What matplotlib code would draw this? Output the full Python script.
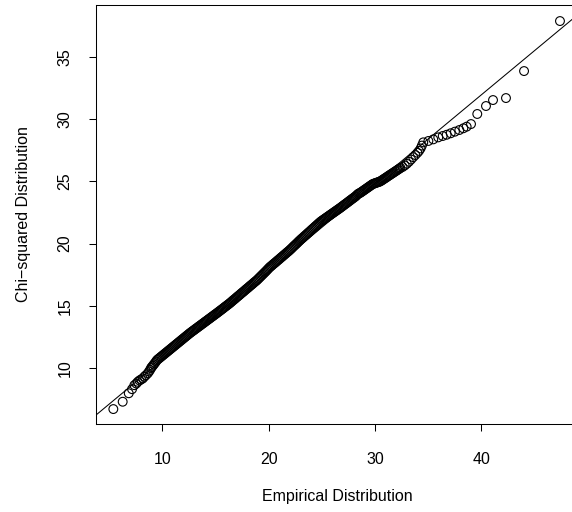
import matplotlib
matplotlib.use("Agg")
import matplotlib.pyplot as plt

plt.rcParams['font.family'] = ['Liberation Sans', 'DejaVu Sans']

# Empirical quantiles (x) vs chi-squared quantiles (y)
emp_x = [
    # lower tail
    5.39, 6.27, 6.84, 7.15, 7.37, 7.55, 7.69, 7.85, 8.00, 8.16, 8.30, 8.45, 8.63, 8.75, 8.85, 8.94,
    # dense body
    9.0, 9.1, 9.2, 9.3, 9.4, 9.5, 9.6, 9.7, 9.8, 9.9,
    10.0, 10.1, 10.2, 10.3, 10.4, 10.5, 10.6, 10.7, 10.8, 10.9,
    11.0, 11.1, 11.2, 11.3, 11.4, 11.5, 11.6, 11.7, 11.8, 11.9,
    12.0, 12.1, 12.2, 12.3, 12.4, 12.5, 12.6, 12.7, 12.8, 12.9,
    13.0, 13.1, 13.2, 13.3, 13.4, 13.5, 13.6, 13.7, 13.8, 13.9,
    14.0, 14.1, 14.2, 14.3, 14.4, 14.5, 14.6, 14.7, 14.8, 14.9,
    15.0, 15.1, 15.2, 15.3, 15.4, 15.5, 15.6, 15.7, 15.8, 15.9,
    16.0, 16.1, 16.2, 16.3, 16.4, 16.5, 16.6, 16.7, 16.8, 16.9,
    17.0, 17.1, 17.2, 17.3, 17.4, 17.5, 17.6, 17.7, 17.8, 17.9,
    18.0, 18.1, 18.2, 18.3, 18.4, 18.5, 18.6, 18.7, 18.8, 18.9,
    19.0, 19.1, 19.2, 19.3, 19.4, 19.5, 19.6, 19.7, 19.8, 19.9,
    20.0, 20.1, 20.2, 20.3, 20.4, 20.5, 20.6, 20.7, 20.8, 20.9,
    21.0, 21.1, 21.2, 21.3, 21.4, 21.5, 21.6, 21.7, 21.8, 21.9,
    22.0, 22.1, 22.2, 22.3, 22.4, 22.5, 22.6, 22.7, 22.8, 22.9,
    23.0, 23.1, 23.2, 23.3, 23.4, 23.5, 23.6, 23.7, 23.8, 23.9,
    24.0, 24.1, 24.2, 24.3, 24.4, 24.5, 24.6, 24.7, 24.8, 24.9,
    25.0, 25.1, 25.2, 25.3, 25.4, 25.5, 25.6, 25.7, 25.8, 25.9,
    26.0, 26.1, 26.2, 26.3, 26.4, 26.5, 26.6, 26.7, 26.8, 26.9,
    27.0, 27.1, 27.2, 27.3, 27.4, 27.5, 27.6, 27.7, 27.8, 27.9,
    28.0, 28.1, 28.2, 28.3, 28.4, 28.5, 28.6, 28.7, 28.8, 28.9,
    29.0, 29.1, 29.2, 29.3, 29.4, 29.5, 29.6, 29.7, 29.8, 29.9,
    30.0, 30.1, 30.2, 30.3, 30.4, 30.5, 30.6, 30.7, 30.8, 30.9,
    31.0, 31.1, 31.2, 31.3, 31.4, 31.5, 31.6, 31.7, 31.8, 31.9,
    32.0, 32.1, 32.2, 32.3, 32.4,
    # thinning out
    32.6, 32.8, 33.0, 33.2, 33.4, 33.6, 33.8, 34.0, 34.15, 34.3, 34.42, 34.55,
    # upper tail
    35.03, 35.49, 35.96, 36.38, 36.75, 37.13, 37.53, 37.94, 38.32, 38.63, 39.04,
    39.63, 40.45, 41.11, 42.33, 44.03, 47.41,
]
chi_y = [
    6.70, 7.29, 7.97, 8.30, 8.62, 8.75, 8.89, 9.00, 9.08, 9.16, 9.30, 9.42, 9.57, 9.72, 9.85, 10.00,
    10.07, 10.18, 10.29, 10.40, 10.52, 10.64, 10.71, 10.78, 10.85, 10.92,
    10.99, 11.06, 11.13, 11.20, 11.27, 11.34, 11.41, 11.48, 11.55, 11.62,
    11.69, 11.76, 11.83, 11.90, 11.97, 12.04, 12.11, 12.18, 12.25, 12.32,
    12.39, 12.46, 12.53, 12.60, 12.67, 12.74, 12.81, 12.87, 12.94, 13.00,
    13.06, 13.13, 13.19, 13.25, 13.32, 13.38, 13.44, 13.51, 13.57, 13.63,
    13.70, 13.76, 13.82, 13.89, 13.95, 14.01, 14.08, 14.14, 14.20, 14.27,
    14.33, 14.39, 14.46, 14.52, 14.59, 14.65, 14.72, 14.78, 14.85, 14.92,
    14.98, 15.05, 15.11, 15.18, 15.25, 15.32, 15.40, 15.47, 15.54, 15.61,
    15.69, 15.76, 15.83, 15.90, 15.98, 16.05, 16.12, 16.19, 16.27, 16.34,
    16.41, 16.48, 16.56, 16.63, 16.70, 16.77, 16.85, 16.92, 16.99, 17.06,
    17.15, 17.23, 17.32, 17.40, 17.49, 17.57, 17.66, 17.74, 17.83, 17.92,
    18.01, 18.10, 18.17, 18.24, 18.32, 18.39, 18.46, 18.53, 18.61, 18.68,
    18.75, 18.83, 18.90, 18.97, 19.05, 19.12, 19.19, 19.27, 19.34, 19.41,
    19.49, 19.57, 19.65, 19.74, 19.82, 19.90, 19.98, 20.06, 20.15, 20.23,
    20.31, 20.39, 20.46, 20.54, 20.62, 20.69, 20.77, 20.85, 20.92, 21.00,
    21.08, 21.16, 21.23, 21.31, 21.39, 21.46, 21.54, 21.62, 21.69, 21.77,
    21.83, 21.89, 21.95, 22.01, 22.07, 22.13, 22.19, 22.25, 22.31, 22.37,
    22.43, 22.49, 22.55, 22.61, 22.67, 22.73, 22.79, 22.85, 22.91, 22.98,
    23.04, 23.11, 23.17, 23.23, 23.30, 23.36, 23.43, 23.49, 23.56, 23.62,
    23.68, 23.75, 23.81, 23.90, 23.98, 24.04, 24.07, 24.13, 24.19, 24.25,
    24.31, 24.37, 24.43, 24.49, 24.55, 24.61, 24.67, 24.73, 24.79, 24.82,
    24.85, 24.88, 24.91, 24.94, 24.97, 25.00, 25.06, 25.11, 25.17, 25.23,
    25.28, 25.34, 25.40, 25.46, 25.51, 25.57, 25.63, 25.68, 25.74, 25.80,
    25.85, 25.91, 25.97, 26.02, 26.08,
    26.16, 26.28, 26.42, 26.58, 26.76, 26.95, 27.12, 27.30, 27.45, 27.65, 27.88, 28.14,
    28.25, 28.38, 28.54, 28.65, 28.75, 28.87, 29.00, 29.13, 29.27, 29.40, 29.61,
    30.42, 31.06, 31.54, 31.70, 33.87, 37.89,
]

# reference line (intercept, slope)
line_a, line_b = 3.55, 0.71

x_ticks = [10, 20, 30, 40]
y_ticks = [10, 15, 20, 25, 30, 35]

fig = plt.figure(figsize=(5.72, 5.12), dpi=100)
# the plot box runs past the right edge of the picture, as in the reference
ax = fig.add_axes([96 / 572, 88 / 512, 483 / 572, 419 / 512])

ax.scatter(emp_x, chi_y, s=40, facecolors='none', edgecolors='black', linewidths=0.8)
ax.axline((0, line_a), slope=line_b, color='black', linewidth=0.75)

ax.set_xlim(3.76, 49.2)
ax.set_ylim(5.50, 39.18)
ax.set_xticks(x_ticks)
ax.set_yticks(y_ticks)
ax.tick_params(direction='out', length=5, width=0.75, labelsize=11.5)
ax.tick_params(axis='x', pad=15)
ax.tick_params(axis='y', pad=12)
for lbl in ax.get_yticklabels():
    lbl.set_rotation(90)
    lbl.set_va('center')
for sp in ax.spines.values():
    sp.set_linewidth(0.75)

ax.set_xlabel('Empirical Distribution', fontsize=11.5, labelpad=16)
ax.set_ylabel('Chi\u2212squared Distribution', fontsize=11.5, labelpad=19)

fig.savefig('out.png', dpi=100)
